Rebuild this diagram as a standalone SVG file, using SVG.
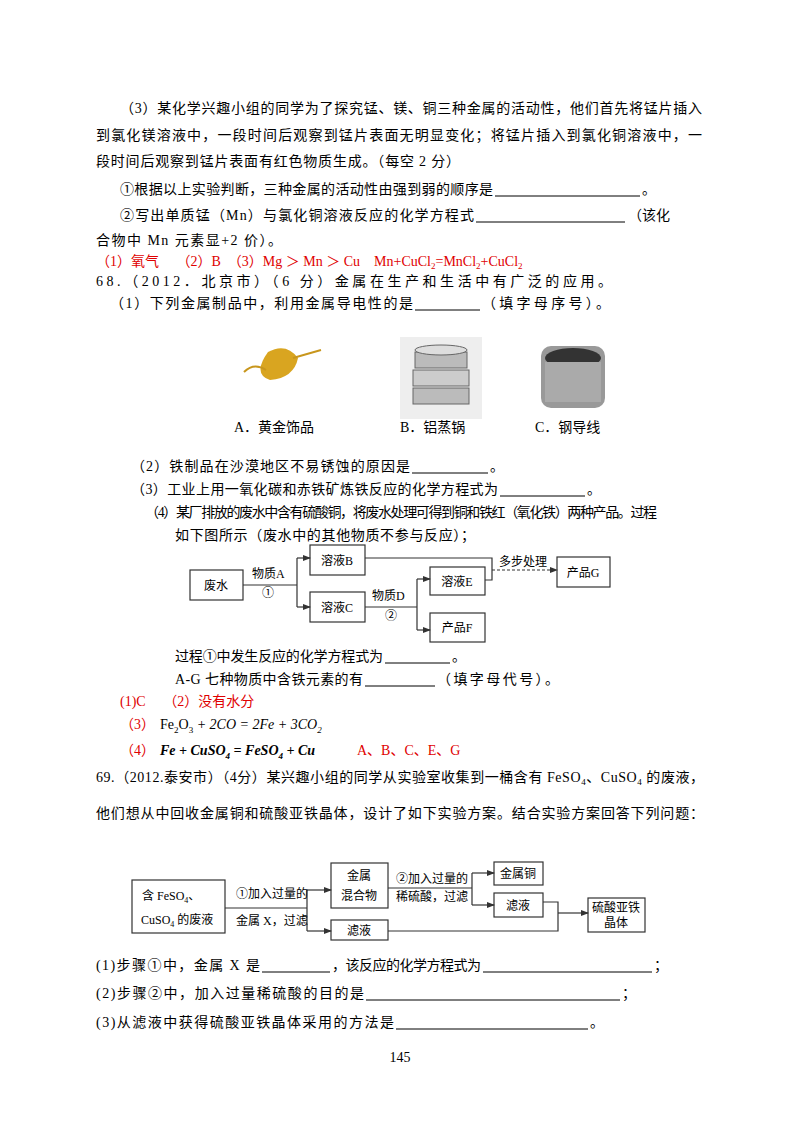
<svg xmlns="http://www.w3.org/2000/svg" width="800" height="1132" viewBox="0 0 800 1132">
<style>
text{font-family:"Liberation Serif","Noto Sans CJK SC",serif;font-size:14px;fill:#000}
.r{fill:#e00000}
.s{font-size:12px}
.b{fill:#fff;stroke:#333;stroke-width:1.2}
.c{fill:none;stroke:#333;stroke-width:1.2}
.u{stroke:#000;stroke-width:1}
.f{font-style:italic}
</style>
<defs><marker id="a" markerWidth="8" markerHeight="8" refX="7" refY="4" orient="auto" markerUnits="userSpaceOnUse"><path d="M0,1 L8,4 L0,7z" fill="#333"/></marker></defs>
<rect width="800" height="1132" fill="#fff"/>
<text x="120" y="113" textLength="582">（3）某化学兴趣小组的同学为了探究锰、镁、铜三种金属的活动性，他们首先将锰片插入</text>
<text x="96" y="140" textLength="606">到氯化镁溶液中，一段时间后观察到锰片表面无明显变化；将锰片插入到氯化铜溶液中，一</text>
<text x="96" y="166" textLength="364">段时间后观察到锰片表面有红色物质生成。（每空 2 分）</text>
<text x="120" y="194" textLength="373">①根据以上实验判断，三种金属的活动性由强到弱的顺序是</text>
<line class="u" x1="495" y1="196" x2="640" y2="196"/><text x="642" y="194">。</text>
<text x="120" y="220" textLength="354">②写出单质锰（Mn）与氯化铜溶液反应的化学方程式</text>
<line class="u" x1="476" y1="222" x2="625" y2="222"/><text x="628" y="220">（该化</text>
<text x="96" y="245" textLength="186">合物中 Mn 元素显+2 价）。</text>
<text class="r" x="96" y="266">（1）氧气　 （2）B　（3）Mg ＞ Mn ＞ Cu　Mn+CuCl<tspan font-size="9" dy="3">2</tspan><tspan dy="-3">=MnCl</tspan><tspan font-size="9" dy="3">2</tspan><tspan dy="-3">+CuCl</tspan><tspan font-size="9" dy="3">2</tspan></text>
<text x="96" y="286" textLength="516">68.（2012．北京市）（6 分）金属在生产和生活中有广泛的应用。</text>
<text x="110" y="308" textLength="303">（1）下列金属制品中，利用金属导电性的是</text>
<line class="u" x1="415" y1="310" x2="480" y2="310"/><text x="482" y="308" textLength="128">（填字母序号）。</text>
<g id="rose"><path d="M268,352 q18,-10 30,6 q-4,20 -28,22 q-18,-6 -2,-28z" fill="#d9a520"/><path d="M293,358 l28,-8" stroke="#c8961c" stroke-width="2"/><path d="M244,372 q10,-10 22,-2" stroke="#c8961c" stroke-width="2" fill="none"/></g>
<g id="pot"><rect x="400" y="337" width="82" height="82" fill="#eee"/><rect x="415" y="352" width="52" height="16" fill="#bbb" stroke="#666"/><rect x="413" y="370" width="56" height="16" fill="#ccc" stroke="#666"/><rect x="413" y="388" width="56" height="16" fill="#bbb" stroke="#666"/><ellipse cx="441" cy="350" rx="26" ry="5" fill="#ddd" stroke="#666"/></g>
<g id="wire"><rect x="541" y="346" width="64" height="62" rx="10" fill="#999"/><ellipse cx="573" cy="358" rx="28" ry="10" fill="#333"/><rect x="545" y="362" width="56" height="40" fill="#aaa"/></g>
<text x="234" y="432">A．黄金饰品</text><text x="400" y="432">B．铝蒸锅</text><text x="535" y="432">C．钢导线</text>
<text x="131" y="471" textLength="279">（2）铁制品在沙漠地区不易锈蚀的原因是</text>
<line class="u" x1="412" y1="473" x2="488" y2="473"/><text x="490" y="471">。</text>
<text x="131" y="494" textLength="367">（3）工业上用一氧化碳和赤铁矿炼铁反应的化学方程式为</text>
<line class="u" x1="500" y1="496" x2="585" y2="496"/><text x="587" y="494">。</text>
<text x="145" y="517" textLength="512">（4）某厂排放的废水中含有硫酸铜，将废水处理可得到铜和铁红（氧化铁）两种产品。过程</text>
<text x="175" y="540" textLength="300">如下图所示（废水中的其他物质不参与反应）；</text>
<g id="n1"><rect class="b" x="190" y="570" width="53" height="30"/><text class="s" x="216" y="590" text-anchor="middle">废水</text></g>
<g id="n2"><rect class="b" x="310" y="545" width="55" height="30"/><text class="s" x="337" y="565" text-anchor="middle">溶液B</text></g>
<g id="n3"><rect class="b" x="310" y="592" width="55" height="30"/><text class="s" x="337" y="612" text-anchor="middle">溶液C</text></g>
<g id="n4"><rect class="b" x="430" y="567" width="55" height="28"/><text class="s" x="457" y="586" text-anchor="middle">溶液E</text></g>
<g id="n5"><rect class="b" x="430" y="613" width="55" height="29"/><text class="s" x="457" y="632" text-anchor="middle">产品F</text></g>
<g id="n6"><rect class="b" x="557" y="557" width="53" height="30"/><text class="s" x="583" y="577" text-anchor="middle">产品G</text></g>
<g id="c1">
<path class="c" d="M243,585 H297 M297,558 V607"/>
<path class="c" d="M297,558 H310" marker-end="url(#a)"/><path class="c" d="M297,607 H310" marker-end="url(#a)"/>
<path class="c" d="M365,607 H417 M417,579 V630"/>
<path class="c" d="M417,579 H430" marker-end="url(#a)"/><path class="c" d="M417,630 H430" marker-end="url(#a)"/>
<path class="c" d="M365,558 H492 V580 H485"/>
<path class="c" d="M492,570 H557" stroke-dasharray="3,2" marker-end="url(#a)"/>
<text class="s" x="252" y="578">物质A</text><text class="s" x="262" y="597">①</text>
<text class="s" x="372" y="600">物质D</text><text class="s" x="385" y="620">②</text>
<text class="s" x="499" y="566">多步处理</text>
</g>
<text x="175" y="661" textLength="208">过程①中发生反应的化学方程式为</text>
<line class="u" x1="385" y1="663" x2="450" y2="663"/><text x="452" y="661">。</text>
<text x="175" y="684" textLength="188">A-G 七种物质中含铁元素的有</text>
<line class="u" x1="365" y1="686" x2="435" y2="686"/><text x="437" y="684" textLength="122">（填字母代号）。</text>
<text class="r" x="120" y="706">(1)C　 （2）没有水分</text>
<text class="r" x="120" y="729">（3）</text>
<text x="160" y="729" font-size="15">Fe<tspan font-size="9" dy="4">2</tspan><tspan dy="-4">O</tspan><tspan font-size="9" dy="4">3</tspan><tspan dy="-4" class="f"> + 2CO = 2Fe + 3CO</tspan><tspan font-size="9" dy="4" class="f">2</tspan></text>
<text class="r" x="120" y="755">（4）</text>
<text x="160" y="755" font-size="15" class="f" font-weight="bold">Fe + CuSO<tspan font-size="9" dy="4">4</tspan><tspan dy="-4"> = FeSO</tspan><tspan font-size="9" dy="4">4</tspan><tspan dy="-4"> + Cu</tspan></text>
<text class="r" x="357" y="755">A、B、C、E、G</text>
<text x="96" y="782" textLength="608">69.（2012.泰安市）（4分）某兴趣小组的同学从实验室收集到一桶含有 FeSO<tspan font-size="9" dy="3">4</tspan><tspan dy="-3">、CuSO</tspan><tspan font-size="9" dy="3">4</tspan><tspan dy="-3"> 的废液，</tspan></text>
<text x="96" y="818" textLength="608">他们想从中回收金属铜和硫酸亚铁晶体，设计了如下实验方案。结合实验方案回答下列问题：</text>
<g id="m1"><rect class="b" x="132" y="880" width="93" height="53"/><text class="s" x="142" y="900">含 FeSO<tspan font-size="8" dy="3">4</tspan><tspan dy="-3">、</tspan></text><text class="s" x="141" y="924">CuSO<tspan font-size="8" dy="3">4</tspan><tspan dy="-3"> 的废液</tspan></text></g>
<g id="m2"><rect class="b" x="331" y="863" width="57" height="45"/><text class="s" x="359" y="880" text-anchor="middle">金属</text><text class="s" x="359" y="900" text-anchor="middle">混合物</text></g>
<g id="m3"><rect class="b" x="331" y="920" width="57" height="20"/><text class="s" x="359" y="935" text-anchor="middle">滤液</text></g>
<g id="m4"><rect class="b" x="494" y="862" width="49" height="23"/><text class="s" x="518" y="878" text-anchor="middle">金属铜</text></g>
<g id="m5"><rect class="b" x="494" y="893" width="49" height="24"/><text class="s" x="518" y="910" text-anchor="middle">滤液</text></g>
<g id="m6"><rect class="b" x="588" y="898" width="57" height="34"/><text class="s" x="616" y="912" text-anchor="middle">硫酸亚铁</text><text class="s" x="616" y="927" text-anchor="middle">晶体</text></g>
<g id="c2">
<path class="c" d="M225,908 H307 M307,890 V931"/>
<path class="c" d="M307,890 H331" marker-end="url(#a)"/><path class="c" d="M307,931 H331" marker-end="url(#a)"/>
<path class="c" d="M388,888 H472 M472,873 V905"/>
<path class="c" d="M472,873 H494" marker-end="url(#a)"/><path class="c" d="M472,905 H494" marker-end="url(#a)"/>
<path class="c" d="M543,902 H558 V931 H388"/>
<path class="c" d="M558,913 H588" marker-end="url(#a)"/>
<text class="s" x="236" y="898">①加入过量的</text><text class="s" x="236" y="925">金属 X，过滤</text>
<text class="s" x="396" y="883">②加入过量的</text><text class="s" x="396" y="901">稀硫酸，过滤</text>
</g>
<text x="96" y="970" textLength="164">(1)步骤①中，金属 X 是</text>
<line class="u" x1="262" y1="972" x2="330" y2="972"/><text x="332" y="970" textLength="149">，该反应的化学方程式为</text>
<line class="u" x1="483" y1="972" x2="652" y2="972"/><text x="654" y="970">；</text>
<text x="96" y="998" textLength="268">(2)步骤②中，加入过量稀硫酸的目的是</text>
<line class="u" x1="366" y1="1000" x2="620" y2="1000"/><text x="622" y="998">；</text>
<text x="96" y="1027" textLength="298">(3)从滤液中获得硫酸亚铁晶体采用的方法是</text>
<line class="u" x1="396" y1="1029" x2="588" y2="1029"/><text x="590" y="1027">。</text>
<text x="400" y="1062" text-anchor="middle" font-size="12">145</text>
</svg>
